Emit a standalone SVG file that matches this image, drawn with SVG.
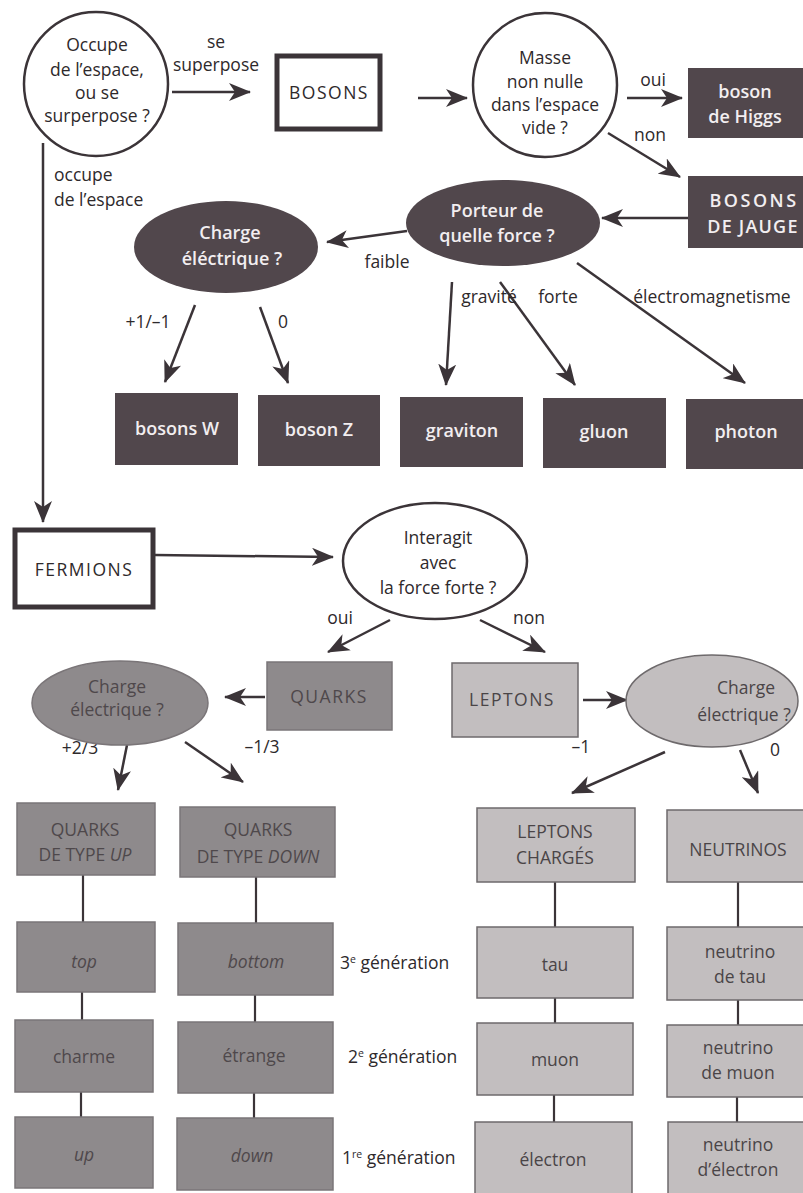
<svg xmlns="http://www.w3.org/2000/svg" width="803" height="1193" viewBox="0 0 803 1193">
<defs>
<marker id="ah" markerUnits="userSpaceOnUse" markerWidth="22" markerHeight="18" refX="21" refY="9" orient="auto">
<path d="M0,0 L22,9 L0,18 L6,9 Z" fill="#3b3438"/>
</marker>
<style>
text{font-family:"Open Sans","Noto Sans",sans-serif;font-size:17.5px;fill:#2e292b;text-anchor:middle}
.st{text-anchor:start}
.w{fill:#f2eef0;font-weight:600;font-size:18px}
.q{fill:#4e484b}
.l{fill:#4a4547}
.i{font-style:italic}
.cap{letter-spacing:1.5px}
.dark{fill:#51474c}
.med{fill:#8e8a8c;stroke:#7a7578;stroke-width:1.5}
.lig{fill:#c2bebf;stroke:#6e6a6c;stroke-width:1.5}
.wh{fill:#fff;stroke:#3b3438;stroke-width:2.5}
.thick{fill:#fff;stroke:#3b3438;stroke-width:5}
.ar{stroke:#3b3438;stroke-width:2.5;fill:none;marker-end:url(#ah)}
.ln{stroke:#3b3438;stroke-width:2.2;fill:none}
</style>
</defs>
<rect width="803" height="1193" fill="#ffffff"/>

<g id="connectors">
<line class="ar" x1="172" y1="92" x2="250" y2="92"/>
<line class="ar" x1="418" y1="98" x2="467" y2="98"/>
<line class="ar" x1="627" y1="98" x2="682" y2="98"/>
<line class="ar" x1="608" y1="133" x2="680" y2="177"/>
<line class="ar" x1="688" y1="218" x2="602" y2="218"/>
<line class="ar" x1="407" y1="231" x2="327" y2="242"/>
<line class="ar" x1="195" y1="305" x2="165" y2="382"/>
<line class="ar" x1="260" y1="307" x2="288" y2="383"/>
<line class="ar" x1="452" y1="282" x2="446" y2="385"/>
<line class="ar" x1="500" y1="282" x2="575" y2="385"/>
<line class="ar" x1="577" y1="263" x2="745" y2="383"/>
<line class="ar" x1="43" y1="143" x2="43" y2="522"/>
<line class="ar" x1="155" y1="555" x2="333" y2="557"/>
<line class="ar" x1="390" y1="620" x2="328" y2="652"/>
<line class="ar" x1="480" y1="620" x2="545" y2="652"/>
<line class="ar" x1="265" y1="697" x2="225" y2="697"/>
<line class="ar" x1="583" y1="700" x2="627" y2="700"/>
<line class="ar" x1="127" y1="745" x2="118" y2="790"/>
<line class="ar" x1="185" y1="742" x2="243" y2="782"/>
<line class="ar" x1="665" y1="752" x2="572" y2="793"/>
<line class="ar" x1="740" y1="750" x2="758" y2="793"/>
<line class="ln" x1="83" y1="875" x2="83" y2="922"/>
<line class="ln" x1="256" y1="877" x2="256" y2="923"/>
<line class="ln" x1="82" y1="992" x2="82" y2="1020"/>
<line class="ln" x1="255" y1="995" x2="255" y2="1022"/>
<line class="ln" x1="81" y1="1092" x2="81" y2="1117"/>
<line class="ln" x1="254" y1="1093" x2="254" y2="1118"/>
<line class="ln" x1="555" y1="882" x2="555" y2="927"/>
<line class="ln" x1="738" y1="882" x2="738" y2="927"/>
<line class="ln" x1="555" y1="998" x2="555" y2="1023"/>
<line class="ln" x1="738" y1="1000" x2="738" y2="1025"/>
<line class="ln" x1="554" y1="1095" x2="554" y2="1122"/>
<line class="ln" x1="737" y1="1097" x2="737" y2="1122"/>
</g>

<g id="labels">
<text x="216" y="48">se</text>
<text x="216" y="71">superpose</text>
<text class="st" x="54" y="181">occupe</text>
<text class="st" x="54" y="206">de l’espace</text>
<text x="653" y="86">oui</text>
<text x="650" y="141">non</text>
<text x="387" y="268">faible</text>
<text x="148" y="328">+1/–1</text>
<text x="283" y="328">0</text>
<text x="489" y="303">gravité</text>
<text x="558" y="303">forte</text>
<text x="712" y="303">électromagnetisme</text>
<text x="340" y="624">oui</text>
<text x="529" y="624">non</text>
<text x="80" y="754">+2/3</text>
<text x="262" y="753">–1/3</text>
<text x="581" y="753">–1</text>
<text x="775" y="756">0</text>
<text class="st" x="340" y="969">3<tspan font-size="10.5" dy="-6">e</tspan><tspan dy="6"> génération</tspan></text>
<text class="st" x="348" y="1063">2<tspan font-size="10.5" dy="-6">e</tspan><tspan dy="6"> génération</tspan></text>
<text class="st" x="342" y="1164">1<tspan font-size="10.5" dy="-6">re</tspan><tspan dy="6"> génération</tspan></text>
</g>

<g id="n_occupe">
<circle class="wh" cx="96" cy="84" r="72"/>
<text x="97" y="51">Occupe</text>
<text x="97" y="76">de l’espace,</text>
<text x="97" y="99">ou se</text>
<text x="97" y="122">surperpose ?</text>
</g>
<g id="n_bosons">
<rect class="thick" x="277" y="56" width="103" height="73"/>
<text class="cap" x="329" y="99">BOSONS</text>
</g>
<g id="n_masse">
<ellipse class="wh" cx="545" cy="85" rx="72" ry="72"/>
<text x="545" y="64">Masse</text>
<text x="545" y="88">non nulle</text>
<text x="545" y="111">dans l’espace</text>
<text x="545" y="134">vide ?</text>
</g>
<g id="n_higgs">
<rect class="dark" x="688" y="68" width="120" height="70"/>
<text class="w" x="745" y="98">boson</text>
<text class="w" x="745" y="123">de Higgs</text>
</g>
<g id="n_jauge">
<rect class="dark" x="688" y="176" width="120" height="72"/>
<text class="w" x="754" y="207" letter-spacing="2.5">BOSONS</text>
<text class="w" x="753" y="233" letter-spacing="1.2">DE JAUGE</text>
</g>
<g id="n_porteur">
<ellipse class="dark" cx="503" cy="223" rx="97" ry="43"/>
<text class="w" x="497" y="217">Porteur de</text>
<text class="w" x="497" y="242">quelle force ?</text>
</g>
<g id="n_charge_faible">
<ellipse class="dark" cx="226" cy="247" rx="92" ry="46"/>
<text class="w" x="230" y="239">Charge</text>
<text class="w" x="232" y="265">éléctrique ?</text>
</g>
<g id="n_w">
<rect class="dark" x="115" y="393" width="123" height="72"/>
<text class="w" x="177" y="435">bosons W</text>
</g>
<g id="n_z">
<rect class="dark" x="258" y="395" width="122" height="71"/>
<text class="w" x="319" y="436">boson Z</text>
</g>
<g id="n_graviton">
<rect class="dark" x="400" y="397" width="123" height="70"/>
<text class="w" x="462" y="437">graviton</text>
</g>
<g id="n_gluon">
<rect class="dark" x="543" y="398" width="123" height="70"/>
<text class="w" x="604" y="438">gluon</text>
</g>
<g id="n_photon">
<rect class="dark" x="686" y="399" width="120" height="70"/>
<text class="w" x="746" y="438">photon</text>
</g>
<g id="n_fermions">
<rect class="thick" x="15" y="530" width="138" height="77"/>
<text class="cap" x="84" y="576">FERMIONS</text>
</g>
<g id="n_interagit">
<ellipse class="wh" cx="435" cy="561" rx="92" ry="58"/>
<text x="438" y="544">Interagit</text>
<text x="438" y="569">avec</text>
<text x="438" y="594">la force forte ?</text>
</g>
<g id="n_quarks">
<rect class="med" x="267" y="662" width="125" height="68"/>
<text class="q cap" x="329" y="703">QUARKS</text>
</g>
<g id="n_leptons">
<rect class="lig" x="452" y="663" width="126" height="74"/>
<text class="l cap" x="512" y="706">LEPTONS</text>
</g>
<g id="n_charge_q">
<ellipse class="med" cx="120" cy="703" rx="88" ry="42"/>
<text class="q" x="117" y="693">Charge</text>
<text class="q" x="117" y="716">électrique ?</text>
</g>
<g id="n_charge_l">
<ellipse class="lig" cx="712" cy="701" rx="86" ry="46"/>
<text class="l" x="746" y="694">Charge</text>
<text class="l" x="744" y="721">électrique ?</text>
</g>
<g id="n_qup">
<rect class="med" x="17" y="803" width="138" height="72"/>
<text class="q" x="85" y="836">QUARKS</text>
<text class="q" x="85" y="861">DE TYPE <tspan class="i">UP</tspan></text>
</g>
<g id="n_qdown">
<rect class="med" x="180" y="807" width="155" height="70"/>
<text class="q" x="258" y="836">QUARKS</text>
<text class="q" x="258" y="863">DE TYPE <tspan class="i">DOWN</tspan></text>
</g>
<g id="n_top">
<rect class="med" x="17" y="922" width="138" height="70"/>
<text class="q i" x="84" y="968">top</text>
</g>
<g id="n_bottom">
<rect class="med" x="178" y="923" width="155" height="72"/>
<text class="q i" x="256" y="968">bottom</text>
</g>
<g id="n_charme">
<rect class="med" x="15" y="1020" width="138" height="72"/>
<text class="q" x="84" y="1063">charme</text>
</g>
<g id="n_etrange">
<rect class="med" x="178" y="1022" width="155" height="71"/>
<text class="q" x="254" y="1062">étrange</text>
</g>
<g id="n_up">
<rect class="med" x="15" y="1117" width="138" height="71"/>
<text class="q i" x="84" y="1161">up</text>
</g>
<g id="n_down">
<rect class="med" x="177" y="1118" width="156" height="72"/>
<text class="q i" x="252" y="1162">down</text>
</g>
<g id="n_lcharges">
<rect class="lig" x="477" y="808" width="158" height="74"/>
<text class="l" x="555" y="838">LEPTONS</text>
<text class="l" x="555" y="864">CHARGÉS</text>
</g>
<g id="n_neutrinos">
<rect class="lig" x="667" y="810" width="140" height="72"/>
<text class="l" x="738" y="856">NEUTRINOS</text>
</g>
<g id="n_tau">
<rect class="lig" x="477" y="927" width="156" height="71"/>
<text class="l" x="555" y="971">tau</text>
</g>
<g id="n_ntau">
<rect class="lig" x="667" y="927" width="140" height="73"/>
<text class="l" x="740" y="958">neutrino</text>
<text class="l" x="740" y="983">de tau</text>
</g>
<g id="n_muon">
<rect class="lig" x="477" y="1023" width="156" height="72"/>
<text class="l" x="555" y="1066">muon</text>
</g>
<g id="n_nmuon">
<rect class="lig" x="667" y="1025" width="140" height="72"/>
<text class="l" x="738" y="1054">neutrino</text>
<text class="l" x="738" y="1079">de muon</text>
</g>
<g id="n_electron">
<rect class="lig" x="475" y="1122" width="157" height="75"/>
<text class="l" x="553" y="1166">électron</text>
</g>
<g id="n_nelectron">
<rect class="lig" x="668" y="1122" width="140" height="75"/>
<text class="l" x="738" y="1151">neutrino</text>
<text class="l" x="738" y="1176">d’électron</text>
</g>
</svg>
